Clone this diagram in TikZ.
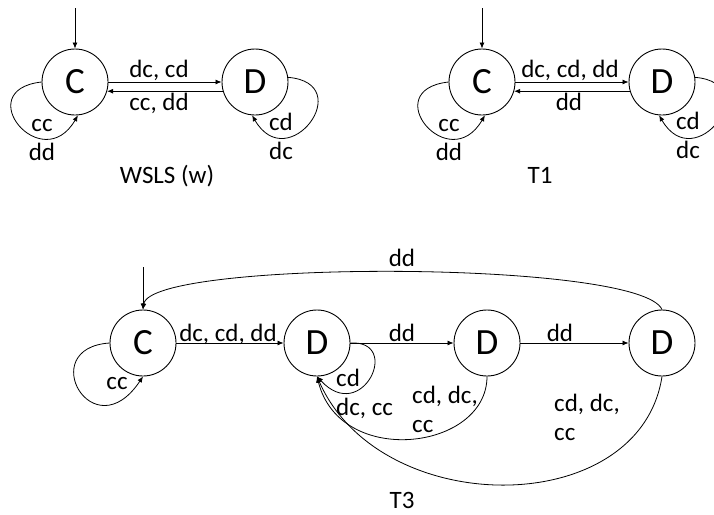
\documentclass[tikz,border=0pt]{standalone}
\usepackage{fontspec}
\setmainfont{Carlito}
\usetikzlibrary{arrows.meta}
\begin{document}
\begin{tikzpicture}[x=1pt, y=-1pt, >={Latex[length=6pt,width=5pt]},
        strat/.style={draw, circle, line width=0.9pt, minimum size=66pt, inner sep=0pt, font=\fontsize{37}{40}\selectfont},
        lbl/.style={inner sep=0pt, anchor=base, font=\fontsize{25}{29}\selectfont},
        edge/.style={->, line width=0.8pt}]
        \useasboundingbox (0,0) rectangle (714,514);
        \node[strat] at (75,82) (WsC) {C};
        \node[strat] at (255,82) (WsD) {D};
        \coordinate (WsIn) at (75,8);
        \draw[edge] (WsIn) -- (WsC);
        \draw[edge] (WsC) -- (WsD);
        \draw[edge] (WsD.-164) -- (WsC.-16);
        \draw[edge] (WsC.west) .. controls +(-72,8) and +(-36,62) .. (WsC.-85);
        \draw[edge] (WsD.8) .. controls +(70,6) and +(36,62) .. (WsD.-95);
        \node[lbl] at (159,77) (WsCD) {dc, cd};
        \node[lbl] at (159,110) (WsDC) {cc, dd};
        \node[lbl, align=center] at (42,160) (WsCC) {cc\\dd};
        \node[lbl, align=center] at (281,159) (WsDD) {cd\\dc};
        \node[lbl] at (167,183) (WsName) {WSLS (w)};
        \node[strat] at (482,82) (TOneC) {C};
        \node[strat] at (662,82) (TOneD) {D};
        \coordinate (TOneIn) at (482,8);
        \draw[edge] (TOneIn) -- (TOneC);
        \draw[edge] (TOneC) -- (TOneD);
        \draw[edge] (TOneD.-164) -- (TOneC.-16);
        \draw[edge] (TOneC.west) .. controls +(-72,8) and +(-36,62) .. (TOneC.-85);
        \draw[edge] (TOneD.8) .. controls +(70,6) and +(36,62) .. (TOneD.-95);
        \node[lbl] at (570,77) (TOneCD) {dc, cd, dd};
        \node[lbl] at (569,110) (TOneDC) {dd};
        \node[lbl, align=center] at (449,160) (TOneCC) {cc\\dd};
        \node[lbl, align=center] at (688,158) (TOneDD) {cd\\dc};
        \node[lbl] at (540,183) (TOneName) {T1};
        \node[strat] at (143,343) (TThrC) {C};
        \node[strat] at (317,343) (TThrDa) {D};
        \node[strat] at (487,343) (TThrDb) {D};
        \node[strat] at (662,343) (TThrDc) {D};
        \coordinate (TThrIn) at (143,267);
        \draw[edge] (TThrIn) -- (TThrC);
        \draw[edge] (TThrC) -- (TThrDa);
        \draw[edge] (TThrDa) -- (TThrDb);
        \draw[edge] (TThrDb) -- (TThrDc);
        \draw[edge] (TThrC.west) .. controls +(-75,5) and +(-50,75) .. (TThrC.south);
        \draw[edge] (TThrDa.east) .. controls +(52,-3) and +(45,49) .. (TThrDa.south);
        \draw[edge] (TThrDb.south) .. controls +(0,74) and +(23,92) .. (TThrDa.south);
        \draw[edge] (TThrDc.south) .. controls +(-22,144) and +(63,144) .. (TThrDa.south);
        \draw[edge] (TThrDc.north) .. controls +(-22,-50) and +(7,-50) .. (TThrC.north);
        \node[lbl] at (228,341) (TThrCD) {dc, cd, dd};
        \node[lbl] at (402,341) (TThrDab) {dd};
        \node[lbl] at (560,341) (TThrDbc) {dd};
        \node[lbl] at (402,266) (TThrDcC) {dd};
        \node[lbl] at (117,389) (TThrCC) {cc};
        \node[lbl, anchor=base west, align=left] at (336,415) (TThrDaa) {cd\\dc, cc};
        \node[lbl, anchor=base west, align=left] at (412,432) (TThrDba) {cd, dc,\\cc};
        \node[lbl, anchor=base west, align=left] at (554,440) (TThrDca) {cd, dc,\\cc};
        \node[lbl] at (402,508) (TThrName) {T3};
    \end{tikzpicture}
\end{document}
